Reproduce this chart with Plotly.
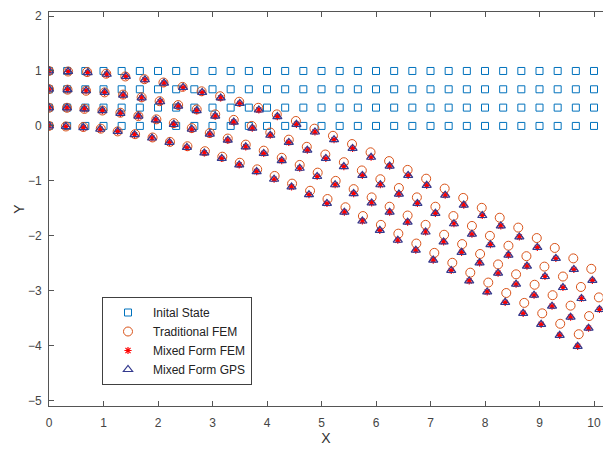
import plotly.graph_objects as go

# ---------------- data ----------------
# undeformed node columns (X) and row levels (Y)
init_x = [0, 0.3333, 0.6667, 1, 1.3333, 1.6667, 2, 2.3333, 2.6667, 3, 3.3333, 3.6667,
          4, 4.3333, 4.6667, 5, 5.3333, 5.6667, 6, 6.3333, 6.6667, 7, 7.3333, 7.6667,
          8, 8.3333, 8.6667, 9, 9.3333, 9.6667, 10]
init_y_levels = [0, 0.3333, 0.6667, 1]

# Traditional FEM deformed nodes (rows Y=0, 1/3, 2/3, 1)
fem_x = [
    [0, 0.31, 0.63, 0.95, 1.26, 1.58, 1.90, 2.22, 2.54, 2.86, 3.18, 3.50, 3.82, 4.14, 4.46, 4.79,
     5.11, 5.44, 5.76, 6.09, 6.41, 6.74, 7.07, 7.40, 7.73, 8.06, 8.39, 8.72, 9.05, 9.38, 9.72],
    [0, 0.33, 0.65, 0.98, 1.31, 1.64, 1.97, 2.29, 2.62, 2.95, 3.28, 3.61, 3.94, 4.27, 4.60, 4.93,
     5.26, 5.59, 5.92, 6.25, 6.58, 6.91, 7.25, 7.58, 7.91, 8.24, 8.57, 8.91, 9.24, 9.57, 9.91],
    [0, 0.34, 0.68, 1.02, 1.36, 1.70, 2.03, 2.37, 2.71, 3.05, 3.39, 3.72, 4.06, 4.40, 4.73, 5.07,
     5.41, 5.74, 6.08, 6.42, 6.75, 7.09, 7.42, 7.76, 8.09, 8.43, 8.76, 9.09, 9.43, 9.76, 10.09],
    [0, 0.35, 0.70, 1.05, 1.40, 1.75, 2.10, 2.45, 2.80, 3.14, 3.49, 3.84, 4.18, 4.53, 4.87, 5.21,
     5.56, 5.90, 6.24, 6.58, 6.92, 7.26, 7.60, 7.94, 8.27, 8.61, 8.95, 9.28, 9.62, 9.95, 10.28],
]
fem_y = [
    [0, -0.01, -0.02, -0.05, -0.10, -0.15, -0.21, -0.29, -0.37, -0.46, -0.56, -0.67, -0.79, -0.91,
     -1.05, -1.18, -1.33, -1.48, -1.64, -1.80, -1.96, -2.14, -2.31, -2.49, -2.67, -2.85, -3.04,
     -3.22, -3.41, -3.60, -3.79],
    [0.33, 0.33, 0.31, 0.28, 0.24, 0.18, 0.12, 0.05, -0.04, -0.13, -0.23, -0.34, -0.45, -0.58,
     -0.71, -0.85, -1.00, -1.15, -1.30, -1.47, -1.63, -1.80, -1.98, -2.15, -2.33, -2.52, -2.70,
     -2.89, -3.08, -3.27, -3.46],
    [0.67, 0.66, 0.64, 0.61, 0.57, 0.52, 0.45, 0.38, 0.30, 0.21, 0.11, 0.00, -0.12, -0.25,
     -0.38, -0.52, -0.66, -0.81, -0.97, -1.13, -1.30, -1.47, -1.64, -1.82, -2.00, -2.18, -2.37,
     -2.56, -2.74, -2.93, -3.12],
    [1.00, 0.99, 0.98, 0.95, 0.90, 0.85, 0.79, 0.71, 0.63, 0.54, 0.44, 0.33, 0.21, 0.09,
     -0.05, -0.18, -0.33, -0.48, -0.64, -0.80, -0.96, -1.14, -1.31, -1.49, -1.67, -1.85, -2.04,
     -2.22, -2.41, -2.60, -2.79],
]

# Mixed form (FEM and GPS coincide) deformed nodes
mixed_x = [
    [0, 0.31, 0.63, 0.94, 1.26, 1.57, 1.89, 2.21, 2.53, 2.85, 3.17, 3.49, 3.81, 4.13, 4.45, 4.77,
     5.10, 5.42, 5.75, 6.07, 6.40, 6.73, 7.05, 7.38, 7.71, 8.04, 8.37, 8.70, 9.03, 9.37, 9.70],
    [0, 0.33, 0.65, 0.98, 1.31, 1.64, 1.96, 2.29, 2.62, 2.95, 3.28, 3.61, 3.94, 4.27, 4.60, 4.92,
     5.25, 5.59, 5.92, 6.25, 6.58, 6.91, 7.24, 7.57, 7.90, 8.24, 8.57, 8.90, 9.23, 9.57, 9.90],
    [0, 0.34, 0.68, 1.02, 1.36, 1.70, 2.04, 2.37, 2.71, 3.05, 3.39, 3.73, 4.06, 4.40, 4.74, 5.08,
     5.41, 5.75, 6.08, 6.42, 6.76, 7.09, 7.43, 7.76, 8.10, 8.43, 8.77, 9.10, 9.43, 9.77, 10.10],
    [0, 0.35, 0.71, 1.06, 1.41, 1.76, 2.11, 2.46, 2.81, 3.15, 3.50, 3.85, 4.19, 4.54, 4.88, 5.23,
     5.57, 5.91, 6.25, 6.59, 6.93, 7.27, 7.61, 7.95, 8.29, 8.63, 8.96, 9.30, 9.63, 9.97, 10.30],
]
mixed_y = [
    [0, -0.01, -0.03, -0.06, -0.10, -0.16, -0.22, -0.30, -0.39, -0.49, -0.59, -0.71, -0.83, -0.97,
     -1.11, -1.25, -1.41, -1.57, -1.73, -1.90, -2.08, -2.26, -2.44, -2.63, -2.82, -3.02, -3.21,
     -3.41, -3.61, -3.81, -4.01],
    [0.33, 0.33, 0.31, 0.28, 0.23, 0.18, 0.11, 0.03, -0.06, -0.15, -0.26, -0.38, -0.50, -0.63,
     -0.77, -0.92, -1.07, -1.23, -1.40, -1.57, -1.75, -1.93, -2.11, -2.30, -2.49, -2.68, -2.88,
     -3.08, -3.28, -3.48, -3.68],
    [0.67, 0.66, 0.64, 0.61, 0.56, 0.51, 0.44, 0.36, 0.28, 0.18, 0.07, -0.04, -0.17, -0.30,
     -0.44, -0.59, -0.74, -0.90, -1.07, -1.24, -1.41, -1.59, -1.78, -1.97, -2.16, -2.35, -2.55,
     -2.74, -2.94, -3.14, -3.34],
    [1.00, 0.99, 0.97, 0.94, 0.90, 0.84, 0.78, 0.70, 0.61, 0.51, 0.41, 0.29, 0.17, 0.03,
     -0.11, -0.25, -0.41, -0.57, -0.73, -0.90, -1.08, -1.26, -1.44, -1.63, -1.82, -2.02, -2.21,
     -2.41, -2.61, -2.81, -3.01],
]

x_ticks = [0, 1, 2, 3, 4, 5, 6, 7, 8, 9, 10]
y_ticks = [-5, -4, -3, -2, -1, 0, 1, 2]

# ---------------- figure ----------------
def flat(rows):
    out = []
    for r in rows:
        out.extend(r)
    return out

ix, iy = [], []
for lvl in init_y_levels:
    ix.extend(init_x)
    iy.extend([lvl] * len(init_x))

FONT = "Liberation Sans, Arial, sans-serif"

fig = go.Figure()
fig.add_trace(go.Scatter(
    x=ix, y=iy, mode="markers", name="Inital State",
    marker=dict(symbol="square-open", size=7, color="#0072BD", line=dict(width=1))))
fig.add_trace(go.Scatter(
    x=flat(fem_x), y=flat(fem_y), mode="markers", name="Traditional FEM",
    marker=dict(symbol="circle-open", size=9, color="#D95319", line=dict(width=1))))
fig.add_trace(go.Scatter(
    x=flat(mixed_x), y=flat(mixed_y), mode="markers", name="Mixed Form FEM",
    marker=dict(symbol="asterisk-open", size=6, color="#FF0000", line=dict(width=1.2))))
fig.add_trace(go.Scatter(
    x=flat(mixed_x), y=flat(mixed_y), mode="markers", name="Mixed Form GPS",
    marker=dict(symbol="triangle-up-open", size=8, color="#343A8E", line=dict(width=1.2))))

axis_common = dict(
    showgrid=False, zeroline=False, showline=True, linecolor="#555555", linewidth=1,
    ticks="inside", ticklen=5, tickcolor="#555555", tickwidth=1,
    tickfont=dict(family=FONT, size=12, color="#444444"),
)

fig.update_layout(
    width=603, height=449,
    margin=dict(l=49, r=0, t=12, b=43),
    paper_bgcolor="white", plot_bgcolor="white",
    showlegend=True,
    legend=dict(
        x=(102 - 49) / 554, y=(406 - 297) / 394, xanchor="left", yanchor="top",
        bgcolor="white", bordercolor="#404040", borderwidth=1,
        font=dict(family=FONT, size=12, color="#222222"),
        itemwidth=40, tracegroupgap=0,
    ),
    xaxis=dict(range=[0, 10.165], tickvals=x_ticks, mirror="ticks", ticklabelstandoff=6,
               title=dict(text="X", font=dict(family=FONT, size=14, color="#333333"), standoff=0),
               **axis_common),
    yaxis=dict(range=[-5.096, 2.073], tickvals=y_ticks, ticklabelstandoff=4,
               title=dict(text="Y", font=dict(family=FONT, size=14, color="#333333"), standoff=0),
               **axis_common),
)

fig.write_html("out.html")
